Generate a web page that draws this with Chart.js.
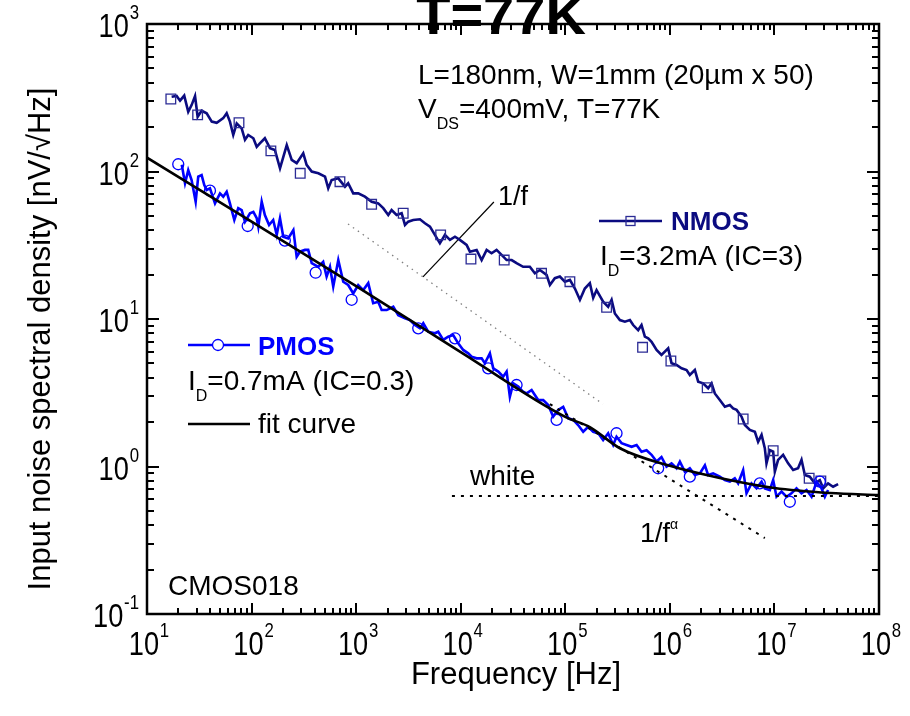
<!DOCTYPE html>
<html>
<head>
<meta charset="utf-8">
<script src="https://cdn.jsdelivr.net/npm/chart.js@4/dist/chart.umd.min.js"></script>
<style>
  html, body { margin: 0; padding: 0; background: #ffffff; }
  canvas { display: block; }
</style>
</head>
<body>
<canvas id="c" width="910" height="716"></canvas>
<script>
// ---------------- data (frequency [Hz], density [nV/√Hz]) ----------------
const nmosSpectrum = [[17.2,321],[19.2,325],[20.7,302],[22.7,327],[24.8,254],[26.7,282],[28.8,325],[30.5,235],[33.3,258],[37.2,248],[41.6,218],[46.4,214],[53.6,230],[57.8,248],[62.1,218],[66.8,177],[72.1,212],[80.4,196],[86.5,164],[92.9,177],[104,168],[112,147],[120,155],[134,168],[150,144],[167,140],[187,105],[217,151],[242,120],[270,114],[312,133],[336,111],[376,99.8],[435,97.2],[504,92.3],[541,76.9],[583,87.5],[675,89.9],[782,78.9],[839,83.2],[938,71.1],[1047,71.1],[1213,67.5],[1406,62.4],[1626,60.8],[1816,56.4],[2028,50.7],[2183,54.8],[2438,50.7],[2723,52.1],[2931,43.4],[3148,45.7],[3516,46.9],[4074,47.4],[4550,44.6],[5082,42.3],[5662,37.2],[6324,32.6],[7063,37.2],[7889,34.4],[8810,36.1],[9817,34.4],[11380,31.8],[12240,28.6],[14190,29.4],[15850,25.1],[17700,29.4],[19720,27.9],[22030,29.4],[24600,27.2],[27480,25.1],[30690,25.1],[34200,23.9],[39540,22.6],[45810,22.6],[51170,20.4],[57150,21.5],[66220,19.9],[71290,17.0],[79430,18.9],[88720,19.4],[99080,17.9],[110700,18.4],[123600,16.1],[138000,13.5],[153800,16.1],[171800,17.5],[184900,13.9],[199100,15.7],[230100,13.1],[257000,12.1],[277300,13.5],[297900,10.9],[332700,9.84],[371500,9.59],[415000,9.84],[445700,9.10],[497700,8.41],[535800,9.10],[576800,7.59],[620900,7.40],[668300,7.01],[746400,6.17],[831800,5.70],[963800,6.32],[1.038e6,5.01],[1.159e6,4.88],[1.294e6,4.63],[1.445e6,4.51],[1.552e6,4.17],[1.734e6,4.51],[1.866e6,3.76],[2.080e6,3.66],[2.323e6,3.39],[2.506e6,3.66],[2.692e6,3.13],[3.006e6,2.82],[3.357e6,2.54],[3.750e6,2.61],[4.027e6,2.48],[4.345e6,2.42],[4.842e6,2.18],[5.212e6,1.91],[5.821e6,1.77],[6.501e6,1.72],[6.982e6,1.47],[7.534e6,1.64],[8.091e6,1.33],[8.395e6,1.05],[9.036e6,1.29],[9.727e6,1.26],[1.009e7,0.923],[1.084e7,1.11],[1.211e7,1.20],[1.352e7,1.05],[1.510e7,0.946],[1.683e7,0.973],[1.816e7,1.11],[1.954e7,0.875],[2.178e7,0.853],[2.432e7,0.769],[2.716e7,0.809],[2.924e7,0.711],[3.258e7,0.769],[3.639e7,0.729],[4.064e7,0.760]];

const nmosMarkers = [[16.9,310],[30.5,242],[75.8,214],[153,138],[292,97.2],[700,85.3],[1406,59.9],[2818,52.1],[6427,37.2],[12530,25.5],[26060,25.1],[59290,20.4],[110700,17.9],[248300,12.0],[548300,6.43],[1.023e6,5.19],[2.275e6,3.42],[5.023e6,2.10],[9.727e6,1.28],[2.148e7,0.832],[2.780e7,0.798]];

const pmosSpectrum = [[21.5,111],[23.1,83.2],[24.8,102],[26.7,87.5],[29.2,62.4],[30.9,92.3],[33.3,94.6],[35.3,80.9],[37.2,75.0],[40.0,76.9],[44.7,60.8],[49.9,71.1],[53.6,67.5],[57.8,72.9],[62.1,60.8],[68.4,46.9],[74.6,56.4],[80.4,54.8],[86.5,45.7],[96.6,52.1],[104,53.3],[112,48.2],[116,42.3],[125,62.4],[134,50.7],[147,43.4],[161,46.9],[174,37.2],[187,48.2],[201,36.1],[224,35.2],[251,40.1],[270,26.4],[290,28.6],[324,29.4],[348,29.4],[376,23.9],[435,22.6],[484,24.4],[522,19.4],[562,22.6],[604,16.6],[675,25.1],[753,17.9],[839,17.0],[938,14.9],[1047,17.0],[1169,15.7],[1306,17.5],[1455,12.8],[1626,13.1],[1754,11.5],[1959,11.5],[2265,12.1],[2529,10.6],[2931,10.1],[3266,9.84],[3648,9.10],[4074,8.65],[4385,9.35],[4887,8.20],[5662,8.00],[6095,8.20],[6808,7.21],[7586,7.59],[8472,7.78],[9462,6.84],[10570,6.17],[11800,5.85],[12710,5.55],[14190,5.41],[15850,5.41],[17020,5.01],[19010,5.85],[20460,4.63],[22860,4.40],[25470,4.06],[27480,4.40],[29510,2.97],[31770,3.66],[35480,3.48],[39540,3.21],[42660,3.13],[47640,3.30],[51170,3.05],[55080,2.82],[61520,2.82],[68710,2.61],[76560,2.18],[85510,2.42],[95500,2.54],[106700,2.12],[119100,2.07],[132700,1.91],[148300,1.72],[165600,1.86],[184900,1.72],[206500,1.68],[230100,1.51],[257000,1.68],[287100,1.40],[309000,1.59],[345100,1.44],[385500,1.40],[430500,1.36],[480800,1.40],[535800,1.26],[598400,1.29],[668300,1.20],[746400,1.08],[831800,1.16],[929000,0.998],[1.038e6,1.05],[1.159e6,0.973],[1.247e6,1.08],[1.390e6,0.923],[1.552e6,0.973],[1.734e6,0.875],[1.936e6,0.899],[2.163e6,1.02],[2.323e6,0.875],[2.594e6,0.899],[3.006e6,0.853],[3.357e6,0.809],[3.750e6,0.789],[4.178e6,0.832],[4.498e6,0.769],[5.023e6,0.946],[5.408e6,0.658],[6.039e6,0.769],[6.745e6,0.711],[7.534e6,0.789],[8.091e6,0.711],[9.036e6,0.693],[9.727e6,0.809],[1.047e7,0.624],[1.169e7,0.675],[1.306e7,0.624],[1.455e7,0.658],[1.626e7,0.711],[1.816e7,0.658],[2.028e7,0.693],[2.265e7,0.624],[2.529e7,0.789],[2.818e7,0.711],[3.034e7,0.624],[3.258e7,0.693]];

const pmosMarkers = [[19.9,112],[40.0,74.1],[91.8,42.7],[208,34.0],[410,20.6],[906,13.5],[3926,8.65],[8810,7.40],[18320,4.63],[34200,3.57],[82600,2.07],[309000,1.68],[772700,0.973],[1.552e6,0.853],[7.244e6,0.769],[1.403e7,0.577],[2.716e7,0.789]];

const fitCurve = [[10,124],[101,45.5],[1000,16.7],[10000,5.97],[100000,2.17],[171800,1.85],[332700,1.33],[1e6,1.01],[3e6,0.836],[1e7,0.715],[3.39e7,0.661],[1e8,0.641]];

const whiteLevel = [[8240,0.631],[1e8,0.631]];
const alphaLine = [[71290,2.65],[8.09e6,0.327]];
const oneOverFLine = [[836,44.1],[2.29e5,2.65]];
const oneOverFPointer = [[4355,19.3],[20750,62.1]];

const xTickExponents = [1,2,3,4,5,6,7,8];
const yTickExponents = [-1,0,1,2,3];
const xRange = [10, 1e8];
const yRange = [0.1, 1000];

// ---------------- helpers ----------------
const FONT = '"Liberation Sans", Arial, Helvetica, sans-serif';
const NAVY = '#0b0b80';
const BLUE = '#0000ff';
const toXY = arr => arr.map(p => ({x: p[0], y: p[1]}));

function segFont(s) { return (s.bold ? 'bold ' : '') + s.size + 'px ' + FONT; }
function richWidth(ctx, segs, sx) {
  let w = 0;
  for (const s of segs) { ctx.font = segFont(s); w += ctx.measureText(s.t).width + (s.gap || 0); }
  return w * (sx || 1);
}
function drawRich(ctx, x, y, segs, color, sx) {
  ctx.save();
  ctx.translate(x, y);
  ctx.scale(sx || 1, 1);
  ctx.fillStyle = color || '#000';
  ctx.textAlign = 'left';
  ctx.textBaseline = 'alphabetic';
  let cx = 0;
  for (const s of segs) {
    ctx.font = segFont(s);
    ctx.fillText(s.t, cx, s.dy || 0);
    cx += ctx.measureText(s.t).width + (s.gap || 0);
  }
  ctx.restore();
}
function expLabel(e) {
  return [{t: '10', size: 34, gap: 1}, {t: String(e), size: 21, dy: -18}];
}
const TICK_SX = 0.8;

const decorations = {
  id: 'decorations',
  afterDraw(chart) {
    const {ctx, chartArea: a, scales} = chart;
    const xs = scales.x, ys = scales.y;
    ctx.save();

    // frame
    ctx.strokeStyle = '#000';
    ctx.lineWidth = 2.5;
    ctx.strokeRect(a.left, a.top, a.right - a.left, a.bottom - a.top);

    // inward ticks on all four sides
    ctx.lineWidth = 2;
    ctx.beginPath();
    for (let e = 1; e < 8; e++) {
      for (let m = 1; m <= 9; m++) {
        const px = Math.round(xs.getPixelForValue(m * Math.pow(10, e)));
        const len = m === 1 ? 11 : 6;
        ctx.moveTo(px, a.bottom); ctx.lineTo(px, a.bottom - len);
        ctx.moveTo(px, a.top); ctx.lineTo(px, a.top + len);
      }
    }
    for (let e = -1; e < 3; e++) {
      for (let m = 1; m <= 9; m++) {
        const py = Math.round(ys.getPixelForValue(m * Math.pow(10, e)));
        const len = m === 1 ? 12 : 7;
        ctx.moveTo(a.left, py); ctx.lineTo(a.left + len, py);
        ctx.moveTo(a.right, py); ctx.lineTo(a.right - len, py);
      }
    }
    ctx.stroke();

    // tick labels (condensed, like the original)
    for (const e of xTickExponents) {
      const px = xs.getPixelForValue(Math.pow(10, e));
      const segs = expLabel(e);
      const w = richWidth(ctx, segs, TICK_SX);
      drawRich(ctx, px - w / 2 + 2, a.bottom + 41, segs, '#000', TICK_SX);
    }
    for (const e of yTickExponents) {
      const py = ys.getPixelForValue(Math.pow(10, e));
      const segs = expLabel(e);
      const w = richWidth(ctx, segs, TICK_SX);
      drawRich(ctx, a.left - 8 - w, py + 13, segs, '#000', TICK_SX);
    }

    // axis titles
    ctx.fillStyle = '#000';
    ctx.font = '31px ' + FONT;
    ctx.textAlign = 'center';
    ctx.textBaseline = 'alphabetic';
    ctx.fillText('Frequency [Hz]', (a.left + a.right) / 2 + 3, 684);
    ctx.save();
    ctx.translate(50, 339);
    ctx.rotate(-Math.PI / 2);
    ctx.fillText('Input noise spectral density [nV/\u221AHz]', 0, 0);
    ctx.restore();

    // title (cut at top edge)
    ctx.font = 'bold 56px ' + FONT;
    ctx.textAlign = 'center';
    ctx.fillText('T=77K', 501, 34);

    // info text
    drawRich(ctx, 418, 84, [{t: 'L=180nm, W=1mm (20\u00B5m x 50)', size: 28}], '#000');
    drawRich(ctx, 418, 118, [{t: 'V', size: 28}, {t: 'DS', size: 16, dy: 11}, {t: '=400mV, T=77K', size: 28}], '#000');

    // NMOS legend
    ctx.strokeStyle = NAVY; ctx.lineWidth = 2.5;
    ctx.beginPath(); ctx.moveTo(599, 221); ctx.lineTo(662, 221); ctx.stroke();
    ctx.lineWidth = 1.3; ctx.strokeStyle = '#2b2b95';
    ctx.strokeRect(626, 216.5, 9, 9);
    drawRich(ctx, 671, 230, [{t: 'NMOS', size: 26, bold: true}], NAVY);
    drawRich(ctx, 600, 265, [{t: 'I', size: 28}, {t: 'D', size: 16, dy: 11}, {t: '=3.2mA (IC=3)', size: 28}], '#000');

    // PMOS legend
    ctx.strokeStyle = BLUE; ctx.lineWidth = 2.5;
    ctx.beginPath(); ctx.moveTo(188, 345); ctx.lineTo(250, 345); ctx.stroke();
    ctx.lineWidth = 1.3;
    ctx.beginPath(); ctx.arc(218, 345, 5.5, 0, Math.PI * 2); ctx.fillStyle = '#fff'; ctx.fill(); ctx.stroke();
    drawRich(ctx, 258, 355, [{t: 'PMOS', size: 26, bold: true}], BLUE);
    drawRich(ctx, 188, 390, [{t: 'I', size: 28}, {t: 'D', size: 16, dy: 11}, {t: '=0.7mA (IC=0.3)', size: 28}], '#000');

    // fit legend
    ctx.strokeStyle = '#000'; ctx.lineWidth = 2.5;
    ctx.beginPath(); ctx.moveTo(188, 424); ctx.lineTo(250, 424); ctx.stroke();
    drawRich(ctx, 258, 433, [{t: 'fit curve', size: 28}], '#000');

    // annotations
    drawRich(ctx, 168, 595, [{t: 'CMOS018', size: 28}], '#000');
    drawRich(ctx, 470, 485, [{t: 'white', size: 28}], '#000');
    drawRich(ctx, 498, 205, [{t: '1/f', size: 27}], '#000');
    drawRich(ctx, 640, 542, [{t: '1/f', size: 27}, {t: '\u03B1', size: 14, dy: -13}], '#000');

    ctx.restore();
  }
};

new Chart(document.getElementById('c'), {
  type: 'line',
  data: {
    datasets: [
      { label: 'fit curve', data: toXY(fitCurve), borderColor: '#000', borderWidth: 2.6, pointRadius: 0, cubicInterpolationMode: 'monotone', fill: false },
      { label: 'white', data: toXY(whiteLevel), borderColor: '#000', borderWidth: 2, borderDash: [3, 6], pointRadius: 0, fill: false },
      { label: '1/f^alpha', data: toXY(alphaLine), borderColor: '#000', borderWidth: 2, borderDash: [3, 6], pointRadius: 0, fill: false },
      { label: 'PMOS markers', data: toXY(pmosMarkers), showLine: false, pointStyle: 'circle', pointRadius: 5.5, pointBorderWidth: 1.3, pointBorderColor: BLUE, pointBackgroundColor: 'rgba(0,0,0,0)' },
      { label: 'PMOS', data: toXY(pmosSpectrum), borderColor: BLUE, borderWidth: 2.6, pointRadius: 0, fill: false },
      { label: 'NMOS markers', data: toXY(nmosMarkers), showLine: false, pointStyle: 'rect', pointRadius: 6.8, pointBorderWidth: 1.3, pointBorderColor: '#2b2b95', pointBackgroundColor: 'rgba(0,0,0,0)' },
      { label: 'NMOS', data: toXY(nmosSpectrum), borderColor: NAVY, borderWidth: 2.6, pointRadius: 0, fill: false },
      { label: '1/f', data: toXY(oneOverFLine), borderColor: '#808080', borderWidth: 1.3, borderDash: [1.5, 4.5], pointRadius: 0, fill: false },
      { label: 'pointer', data: toXY(oneOverFPointer), borderColor: '#000', borderWidth: 1.2, pointRadius: 0, fill: false }
    ]
  },
  options: {
    responsive: false,
    animation: false,
    devicePixelRatio: 1,
    layout: { padding: { left: 147, right: 31, top: 24, bottom: 102 } },
    plugins: { legend: { display: false }, tooltip: { enabled: false }, title: { display: false } },
    scales: {
      x: { type: 'logarithmic', min: xRange[0], max: xRange[1], display: false },
      y: { type: 'logarithmic', min: yRange[0], max: yRange[1], display: false }
    },
    elements: { line: { tension: 0 } }
  },
  plugins: [decorations]
});
</script>
</body>
</html>
